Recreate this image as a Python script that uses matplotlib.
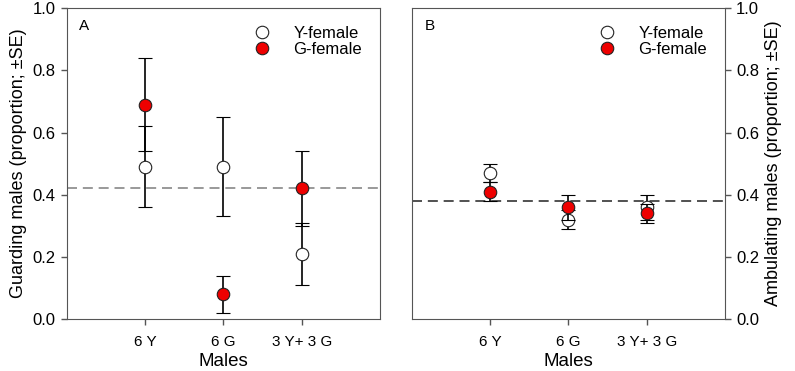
import matplotlib
matplotlib.use('Agg')
import matplotlib.pyplot as plt
import numpy as np

plt.rcParams['font.family'] = ['Liberation Sans', 'DejaVu Sans']

groups = ['6 Y', '6 G', '3 Y+ 3 G']
pos = np.array([1, 2, 3])

# panel A: guarding males
guard_y = [0.49, 0.49, 0.21]
guard_y_se = [0.13, 0.16, 0.10]
guard_g = [0.69, 0.08, 0.42]
guard_g_se = [0.15, 0.06, 0.12]
guard_ref = 0.42

# panel B: ambulating males
amb_y = [0.47, 0.32, 0.36]
amb_y_se = [0.03, 0.03, 0.04]
amb_g = [0.41, 0.36, 0.34]
amb_g_se = [0.03, 0.04, 0.03]
amb_ref = 0.38

fig = plt.figure(figsize=(7.95, 3.71), dpi=100)
axA = fig.add_axes([0.084, 0.140, 0.394, 0.838])
axB = fig.add_axes([0.518, 0.140, 0.394, 0.838])


def panel(ax, yv, yse, gv, gse, ref, refcol, letter, ylabel, right=False):
    ax.axhline(ref, color=refcol, linestyle=(0, (6, 3.5)), linewidth=1.2, zorder=1)
    ax.errorbar(pos, yv, yerr=yse, fmt='o', mfc='white', mec='#222222',
                ms=9, mew=0.8, ecolor='black', elinewidth=1.2, capsize=5,
                capthick=1.2, label='Y-female', zorder=3)
    ax.errorbar(pos, gv, yerr=gse, fmt='o', mfc='#ee0000', mec='#222222',
                ms=9, mew=0.8, ecolor='black', elinewidth=1.2, capsize=5,
                capthick=1.2, label='G-female', zorder=4)
    ax.set_xlim(0, 4)
    ax.set_ylim(0, 1.0)
    ax.set_xticks(pos)
    ax.set_xticklabels(groups, fontsize=11)
    ax.set_yticks(np.arange(0, 1.01, 0.2))
    ax.set_yticklabels(['%.1f' % v for v in np.arange(0, 1.01, 0.2)], fontsize=12)
    for s in ax.spines.values():
        s.set_color('#555555')
    ax.tick_params(direction='out', length=4.5, color='#555555', width=1)
    ax.tick_params(axis='x', pad=7)
    if right:
        ax.yaxis.tick_right()
        ax.yaxis.set_label_position('right')
    ax.set_ylabel(ylabel, fontsize=13)
    ax.set_xlabel('Males', fontsize=13.5, labelpad=2.5)
    ax.text(0.04, 0.93, letter, transform=ax.transAxes, fontsize=11)
    h, l = ax.get_legend_handles_labels()
    h = [x[0] for x in h]
    ax.legend(h, l, loc='upper right', bbox_to_anchor=(0.99, 0.99), frameon=False,
              fontsize=12, handletextpad=1.3, labelspacing=0.05, handlelength=1.2)


panel(axA, guard_y, guard_y_se, guard_g, guard_g_se, guard_ref, '#888888', 'A',
      'Guarding males (proportion; \u00b1SE)')
panel(axB, amb_y, amb_y_se, amb_g, amb_g_se, amb_ref, '#333333', 'B',
      'Ambulating males (proportion; \u00b1SE)', right=True)

fig.savefig('out.png', dpi=100)
